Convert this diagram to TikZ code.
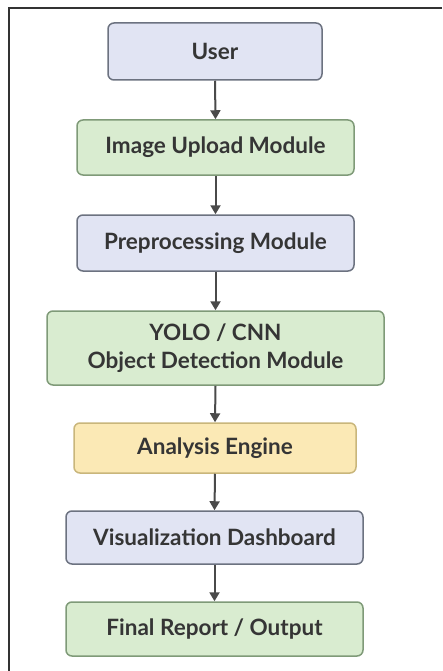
\documentclass[tikz,border=0pt]{standalone}
\usepackage{fontspec}
\setmainfont{Lato}
\usetikzlibrary{arrows.meta}
\definecolor{bluefill}{HTML}{E1E4F3}
\definecolor{blueline}{HTML}{6C7280}
\definecolor{greenfill}{HTML}{D9ECD0}
\definecolor{greenline}{HTML}{7F9A78}
\definecolor{yellowfill}{HTML}{FBE9B5}
\definecolor{yellowline}{HTML}{C9B67B}
\definecolor{arrowgray}{HTML}{4A4A4A}
\definecolor{txt}{HTML}{353535}
\begin{document}
\begin{tikzpicture}[x=1pt,y=-1pt,
  box/.style={rounded corners=6pt, line width=1.5pt, inner sep=0pt, align=center,
    font=\fontsize{22.5}{28}\selectfont\bfseries, text=txt},
  bluebox/.style={box, draw=blueline, fill=bluefill},
  greenbox/.style={box, draw=greenline, fill=greenfill},
  yellowbox/.style={box, draw=yellowline, fill=yellowfill},
  conn/.style={draw=arrowgray, line width=2pt, -{Triangle[length=9pt,width=10pt]}}]
\useasboundingbox (0,0) rectangle (442,671);
\fill[white] (0,0) rectangle (442,671);
\draw[line width=2pt, color=black!80] (8.5,671) -- (8.5,8.5) -- (442,8.5);
\node[bluebox, minimum width=214pt, minimum height=57pt] (user) at (215,51.5) {User};
\node[greenbox, minimum width=277pt, minimum height=55pt] (upload) at (215.5,147.5) {Image Upload Module};
\node[bluebox, minimum width=277pt, minimum height=56pt] (prep) at (215.5,243) {Preprocessing Module};
\node[greenbox, minimum width=337pt, minimum height=74pt] (yolo) at (215.5,348) {YOLO / CNN\\Object Detection Module};
\node[yellowbox, minimum width=282pt, minimum height=50pt] (ana) at (215,448) {Analysis Engine};
\node[bluebox, minimum width=297pt, minimum height=53pt] (vis) at (214.5,537.5) {Visualization Dashboard};
\node[greenbox, minimum width=297pt, minimum height=54pt] (final) at (214.5,629) {Final Report / Output};
\draw[conn] (user.south) -- (upload.north);
\draw[conn] (upload.south) -- (prep.north);
\draw[conn] (prep.south) -- (yolo.north);
\draw[conn] (yolo.south) -- (ana.north);
\draw[conn] (ana.south) -- (vis.north);
\draw[conn] (vis.south) -- (final.north);
\end{tikzpicture}
\end{document}
